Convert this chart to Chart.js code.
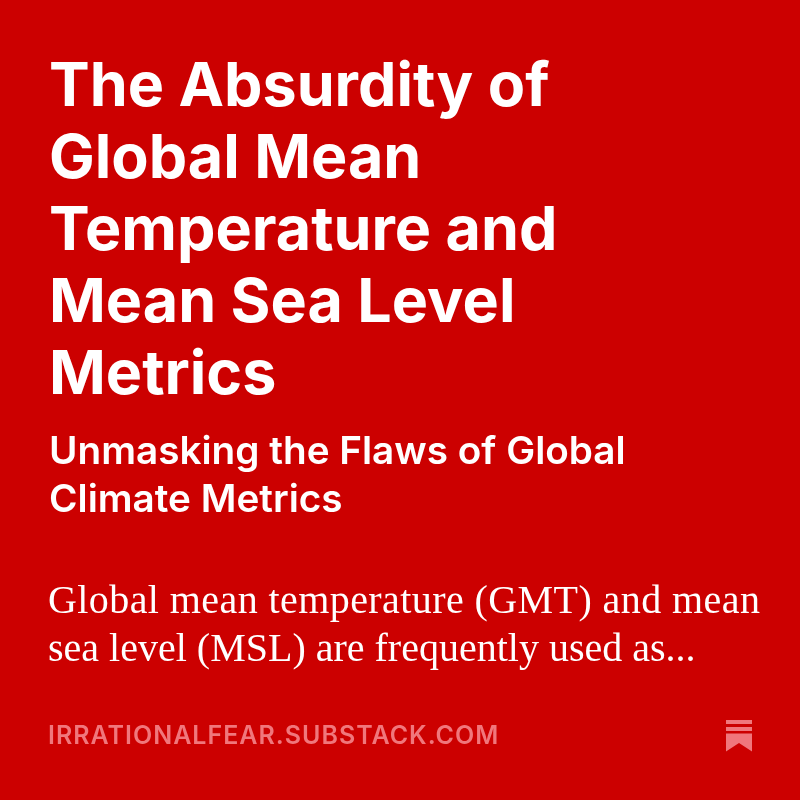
<!DOCTYPE html>
<html>
<head>
<meta charset="utf-8">
<title>The Absurdity of Global Mean Temperature and Mean Sea Level Metrics</title>
<script src="https://cdn.jsdelivr.net/npm/chart.js@4"></script>
<style>
  html, body { margin: 0; padding: 0; background: #cc0000; }
  canvas { display: block; }
</style>
</head>
<body>
<canvas id="card" width="800" height="800"></canvas>
<script>
// Text of the card, line by line
const titleLines = ['The Absurdity of', 'Global Mean', 'Temperature and', 'Mean Sea Level', 'Metrics'];
const subtitleLines = ['Unmasking the Flaws of Global', 'Climate Metrics'];
const bodyLines = ['Global mean temperature (GMT) and mean', 'sea level (MSL) are frequently used as...'];
const footerLabel = 'IRRATIONALFEAR.SUBSTACK.COM';

const PINK = '#f0777c';

// Body text, footer and bookmark logo sit below the title block
const cardText = {
    id: 'cardText',
    afterDraw(chart) {
        const ctx = chart.ctx;
        ctx.save();
        ctx.textBaseline = 'alphabetic';

        ctx.fillStyle = '#ffffff';
        ctx.font = '40px "Liberation Serif"';
        ctx.letterSpacing = '0.42px';
        ctx.fillText(bodyLines[0], 48, 613);
        ctx.letterSpacing = '0px';
        ctx.fillText(bodyLines[1], 48, 661);

        ctx.fillStyle = PINK;
        ctx.font = '600 25px Inter';
        ctx.letterSpacing = '1px';
        ctx.fillText(footerLabel, 48, 744);
        ctx.letterSpacing = '0px';

        // Bookmark logo
        ctx.fillRect(726, 720, 26, 4);
        ctx.fillRect(726, 727, 26, 4);
        ctx.beginPath();
        ctx.moveTo(726, 733.5);
        ctx.lineTo(752, 733.5);
        ctx.lineTo(752, 751.5);
        ctx.lineTo(739, 743);
        ctx.lineTo(726, 751.5);
        ctx.closePath();
        ctx.fill();
        ctx.restore();
    }
};

new Chart(document.getElementById('card'), {
    type: 'bar',
    data: { labels: [], datasets: [] },
    plugins: [cardText],
    options: {
        responsive: false,
        animation: false,
        layout: { padding: { left: 49, top: 52 } },
        scales: { x: { display: false }, y: { display: false } },
        plugins: {
            legend: { display: false },
            tooltip: { enabled: false },
            title: {
                display: true,
                text: titleLines,
                align: 'start',
                color: '#ffffff',
                font: { family: 'Inter', size: 61, weight: '700', lineHeight: 1.18 },
                padding: { top: 0, bottom: 16 }
            },
            subtitle: {
                display: true,
                text: subtitleLines,
                align: 'start',
                color: '#ffffff',
                font: { family: 'Inter', size: 38.7, weight: '600', lineHeight: 1.24 },
                padding: 0
            }
        }
    }
});
</script>
</body>
</html>
